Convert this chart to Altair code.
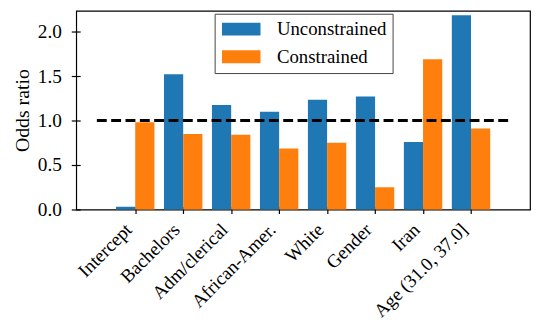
import json
import altair as alt
import pandas as pd

categories = ["Intercept", "Bachelors", "Adm/clerical", "African-Amer.", "White",
              "Gender", "Iran", "Age (31.0, 37.0]"]
unconstrained = [0.03, 1.52, 1.175, 1.10, 1.235, 1.27, 0.76, 2.185]
constrained = [0.98, 0.85, 0.84, 0.685, 0.75, 0.25, 1.69, 0.91]
series_names = ["Unconstrained", "Constrained"]
series_colors = ["#1f77b4", "#ff7f0e"]
reference_value = 1.0

rows = []
for i, c in enumerate(categories):
    rows.append({"idx": i, "category": c, "series": series_names[0], "value": unconstrained[i]})
    rows.append({"idx": i, "category": c, "series": series_names[1], "value": constrained[i]})
df = pd.DataFrame(rows)

label_expr = json.dumps(categories) + "[datum.value]"
FONT = "Liberation Serif"

xscale = alt.Scale(domain=[-1.23, len(categories) - 1 + 1.23], nice=False, zero=False)
yscale = alt.Scale(domain=[0, 2.235], nice=False)

x_axis = alt.Axis(values=list(range(len(categories))), labelExpr=label_expr,
                  title=None, grid=False, domain=False, tickSize=7, offset=-3,
                  tickColor="black", tickWidth=1.2,
                  labelAngle=315, labelAlign="right", labelBaseline="middle",
                  labelFont=FONT, labelFontSize=19, labelColor="black",
                  labelPadding=13, labelOffset=-7, labelOverlap=False, labelFlush=False)
y_axis = alt.Axis(values=[0, 0.5, 1.0, 1.5, 2.0], format=".1f", title="Odds ratio",
                  grid=False, domain=False, tickSize=9, offset=-4,
                  tickColor="black", tickWidth=1.2,
                  labelFont=FONT, labelFontSize=19.5, labelColor="black",
                  labelPadding=10,
                  titleFont=FONT, titleFontSize=20, titleFontWeight="normal",
                  titleColor="black", titlePadding=5)

bars = alt.Chart(df).transform_calculate(
    x0="datum.series == 'Unconstrained' ? datum.idx - 0.4 : datum.idx",
    x1="datum.series == 'Unconstrained' ? datum.idx : datum.idx + 0.4",
).mark_bar().encode(
    x=alt.X("x0:Q", scale=xscale, axis=x_axis),
    x2="x1:Q",
    y=alt.Y("value:Q", scale=yscale, axis=y_axis),
    y2=alt.datum(0),
    color=alt.Color("series:N", sort=series_names,
                    scale=alt.Scale(domain=series_names, range=series_colors),
                    legend=alt.Legend(orient="none", legendX=140, legendY=3, title=None,
                                      symbolType="M-0.85,-0.684H3.25V0.684H-0.85Z",
                                      symbolSize=361,
                                      symbolStrokeWidth=0, labelFont=FONT,
                                      labelFontSize=19, labelColor="black", labelOffset=38,
                                      padding=6, rowPadding=8, strokeColor="#444444",
                                      fillColor="white", cornerRadius=0)),
)

ref = pd.DataFrame({"y": [reference_value], "xs": [-0.8], "xe": [len(categories) - 0.2]})
rule = alt.Chart(ref).mark_rule(color="black", strokeWidth=3, strokeDash=[10, 4.5]).encode(
    x=alt.X("xs:Q", scale=xscale, axis=x_axis),
    x2="xe:Q",
    y=alt.Y("y:Q", scale=yscale, axis=y_axis),
)

chart = alt.layer(bars, rule).properties(
    width=459, height=201,
    padding={"left": 69, "top": 1, "right": 2, "bottom": 112},
    autosize=alt.AutoSizeParams(type="none"),
).configure_view(stroke="black", strokeWidth=1.2).configure_axis(
    labelFont=FONT, titleFont=FONT
).configure_text(font=FONT)

chart.save("out.html", embed_options={"renderer": "svg", "actions": False})
